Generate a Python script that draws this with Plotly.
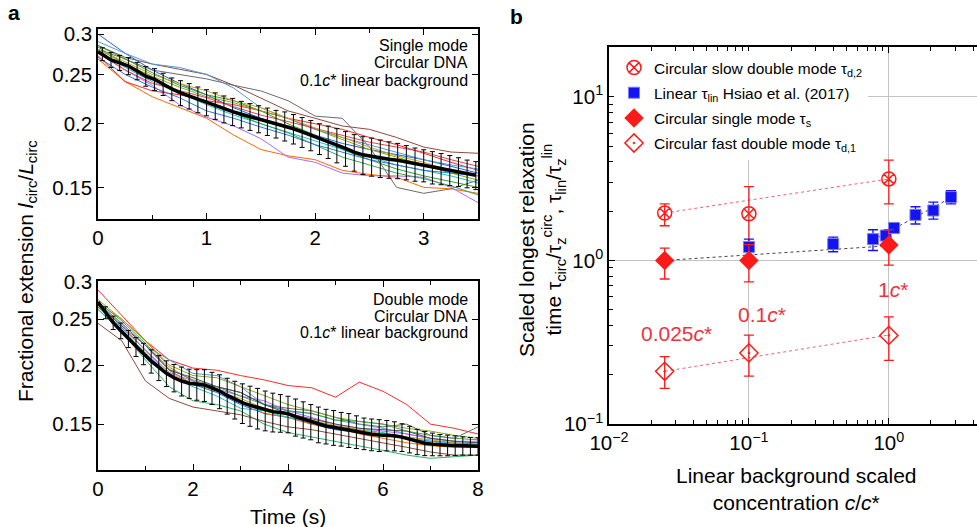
import math
import plotly.graph_objects as go

# ---------------- Panel a (top): single mode ----------------
top_t = [0, 0.25, 0.5, 0.75, 1.0, 1.25, 1.5, 1.75, 2.0, 2.25, 2.5, 2.75, 3.0, 3.25, 3.5]
top_gray = [0.280, 0.268, 0.255, 0.250, 0.245, 0.238, 0.232, 0.222, 0.207, 0.205, 0.180, 0.150, 0.146, 0.149, 0.155]
top_brown = [0.285, 0.270, 0.262, 0.256, 0.250, 0.238, 0.225, 0.212, 0.205, 0.198, 0.195, 0.188, 0.180, 0.176, 0.175]
top_orange = [0.268, 0.242, 0.226, 0.215, 0.205, 0.190, 0.178, 0.173, 0.170, 0.162, 0.159, 0.157, 0.150, 0.149, 0.146]
top_purple = [0.275, 0.255, 0.238, 0.218, 0.206, 0.198, 0.187, 0.172, 0.168, 0.160, 0.158, 0.158, 0.157, 0.150, 0.140]
top_blue = [0.300, 0.275, 0.255, 0.240, 0.228, 0.215, 0.205, 0.198, 0.190, 0.183, 0.178, 0.174, 0.170, 0.165, 0.160]
top_red = [0.272, 0.242, 0.232, 0.228, 0.222, 0.218, 0.212, 0.205, 0.200, 0.195, 0.188, 0.182, 0.175, 0.168, 0.162]
top_green = [0.285, 0.268, 0.252, 0.238, 0.228, 0.222, 0.212, 0.200, 0.190, 0.178, 0.170, 0.163, 0.158, 0.154, 0.150]
top_olive = [0.280, 0.262, 0.248, 0.236, 0.226, 0.220, 0.212, 0.205, 0.195, 0.186, 0.178, 0.172, 0.166, 0.160, 0.155]
top_cyan = [0.278, 0.258, 0.242, 0.230, 0.218, 0.208, 0.200, 0.193, 0.185, 0.178, 0.172, 0.166, 0.162, 0.158, 0.153]
top_lightblue = [0.290, 0.275, 0.262, 0.258, 0.250, 0.235, 0.215, 0.205, 0.195, 0.188, 0.182, 0.176, 0.170, 0.166, 0.163]
top_darkgreen = [0.283, 0.262, 0.245, 0.232, 0.220, 0.210, 0.200, 0.192, 0.182, 0.172, 0.166, 0.160, 0.156, 0.151, 0.145]
top_blue2 = [0.270, 0.250, 0.236, 0.225, 0.212, 0.205, 0.197, 0.190, 0.182, 0.176, 0.170, 0.166, 0.162, 0.160, 0.158]
top_red2 = [0.276, 0.255, 0.240, 0.232, 0.225, 0.216, 0.208, 0.202, 0.196, 0.190, 0.184, 0.180, 0.176, 0.170, 0.165]
top_gold = [0.280, 0.265, 0.250, 0.240, 0.232, 0.222, 0.215, 0.205, 0.196, 0.188, 0.180, 0.173, 0.168, 0.162, 0.158]

top_mean_start = 0.277
top_mean = [0.274, 0.267, 0.2635, 0.2597, 0.254, 0.248, 0.2446, 0.2393, 0.234, 0.230, 0.2268,
            0.2232, 0.2203, 0.217, 0.2138, 0.2113, 0.2088, 0.2066, 0.2045, 0.2022, 0.200, 0.198,
            0.1955, 0.1927, 0.190, 0.187, 0.1844, 0.1816, 0.179, 0.1759, 0.1738, 0.1726, 0.1713,
            0.1703, 0.1695, 0.1682, 0.1667, 0.1658, 0.1643, 0.1633, 0.1622, 0.161, 0.1597, 0.1585]
top_err = [0.008, 0.009, 0.009, 0.010, 0.010, 0.011, 0.012, 0.012, 0.012, 0.013, 0.013,
           0.013, 0.013, 0.013, 0.013, 0.013, 0.0125, 0.0125, 0.0125, 0.0125, 0.0125, 0.013,
           0.013, 0.013, 0.013, 0.013, 0.0135, 0.014, 0.014, 0.0145, 0.0148, 0.0148, 0.0145,
           0.014, 0.0135, 0.013, 0.0125, 0.012, 0.012, 0.0115, 0.011, 0.0105, 0.010, 0.010]
top_bar_t = [round(0.04 + 0.08 * k, 2) for k in range(len(top_mean))]

# ---------------- Panel a (bottom): double mode ----------------
bot_t = [0, 0.5, 1, 1.5, 2, 2.5, 3, 3.5, 4, 4.5, 5, 5.5, 6, 6.5, 7, 7.5, 8]
bot_red = [0.288, 0.255, 0.225, 0.205, 0.197, 0.195, 0.190, 0.186, 0.181, 0.179, 0.171, 0.184, 0.176, 0.165, 0.150, 0.147, 0.143]
bot_green = [0.262, 0.235, 0.205, 0.180, 0.168, 0.165, 0.160, 0.150, 0.144, 0.141, 0.138, 0.135, 0.132, 0.129, 0.127, 0.128, 0.129]
bot_brown = [0.245, 0.225, 0.185, 0.170, 0.163, 0.160, 0.157, 0.152, 0.148, 0.146, 0.143, 0.140, 0.137, 0.134, 0.131, 0.129, 0.129]
bot_gray = [0.270, 0.245, 0.220, 0.195, 0.182, 0.180, 0.175, 0.165, 0.162, 0.160, 0.155, 0.150, 0.148, 0.150, 0.142, 0.140, 0.148]
bot_blue = [0.265, 0.240, 0.215, 0.190, 0.182, 0.175, 0.165, 0.158, 0.155, 0.150, 0.146, 0.144, 0.142, 0.140, 0.138, 0.137, 0.136]
bot_lightblue = [0.270, 0.245, 0.220, 0.205, 0.192, 0.190, 0.180, 0.165, 0.160, 0.158, 0.153, 0.150, 0.147, 0.143, 0.140, 0.138, 0.137]
bot_orange = [0.270, 0.250, 0.225, 0.198, 0.185, 0.178, 0.168, 0.158, 0.155, 0.150, 0.148, 0.143, 0.140, 0.137, 0.135, 0.134, 0.134]
bot_olive = [0.275, 0.250, 0.225, 0.200, 0.190, 0.188, 0.180, 0.172, 0.165, 0.160, 0.155, 0.152, 0.150, 0.147, 0.145, 0.142, 0.140]
bot_purple = [0.268, 0.242, 0.215, 0.193, 0.185, 0.178, 0.172, 0.168, 0.160, 0.155, 0.150, 0.147, 0.145, 0.143, 0.140, 0.138, 0.138]
bot_cyan = [0.262, 0.238, 0.212, 0.190, 0.180, 0.172, 0.162, 0.160, 0.155, 0.152, 0.148, 0.146, 0.144, 0.140, 0.138, 0.136, 0.136]
bot_green2 = [0.272, 0.248, 0.222, 0.196, 0.186, 0.180, 0.172, 0.165, 0.160, 0.158, 0.153, 0.152, 0.150, 0.145, 0.142, 0.140, 0.139]
bot_darkgray = [0.268, 0.242, 0.220, 0.195, 0.188, 0.180, 0.175, 0.165, 0.158, 0.154, 0.150, 0.147, 0.146, 0.145, 0.140, 0.138, 0.137]
bot_gold = [0.266, 0.244, 0.214, 0.192, 0.183, 0.176, 0.170, 0.162, 0.157, 0.153, 0.149, 0.146, 0.143, 0.141, 0.139, 0.137, 0.135]

bot_mean_start = 0.2716
bot_mean = [0.258, 0.2457, 0.2363, 0.2272, 0.2185, 0.2113, 0.2038, 0.1974, 0.1921, 0.188,
            0.185, 0.183, 0.182, 0.1815, 0.179, 0.1762, 0.1725, 0.1693, 0.1665, 0.1644,
            0.1625, 0.1607, 0.1594, 0.1587, 0.1578, 0.1555, 0.1537, 0.152, 0.150, 0.1487,
            0.1478, 0.1468, 0.1459, 0.1447, 0.1435, 0.1428, 0.1423, 0.1422, 0.1417, 0.1408,
            0.1394, 0.1378, 0.1367, 0.1361, 0.1356, 0.1354, 0.1352, 0.135, 0.1348, 0.1347]
bot_err = [0.0075, 0.008, 0.009, 0.0095, 0.010, 0.011, 0.0115, 0.012, 0.012, 0.0125,
           0.013, 0.013, 0.0135, 0.014, 0.014, 0.0145, 0.015, 0.0155, 0.016, 0.016,
           0.016, 0.0155, 0.015, 0.0145, 0.014, 0.014, 0.0135, 0.013, 0.013, 0.0125,
           0.0125, 0.012, 0.012, 0.0115, 0.011, 0.011, 0.011, 0.0105, 0.010, 0.0095,
           0.009, 0.0085, 0.008, 0.0075, 0.007, 0.0068, 0.0065, 0.006, 0.0058, 0.0057]
bot_bar_t = [round(0.16 * (k + 1), 2) for k in range(len(bot_mean))]

# ---------------- Panel b ----------------
conc_circ = [0.025, 0.1, 1.0]
slow_y = [1.95, 1.93, 3.15]
slow_ep = [0.27, 0.90, 0.95]
slow_em = [0.32, 0.70, 0.93]

lin_x = [0.1, 0.4, 0.77, 0.95, 1.09, 1.55, 2.08, 2.78]
lin_y = [1.21, 1.26, 1.35, 1.42, 1.58, 1.90, 2.02, 2.44]
lin_ep = [0.14, 0.13, 0.19, 0.10, 0.08, 0.23, 0.25, 0.23]
lin_em = [0.15, 0.13, 0.20, 0.10, 0.08, 0.23, 0.23, 0.22]

single_y = [1.0, 1.0, 1.245]
single_ep = [0.19, 0.25, 0.30]
single_em = [0.23, 0.26, 0.31]

fast_y = [0.21, 0.272, 0.348]
fast_ep = [0.048, 0.077, 0.104]
fast_em = [0.045, 0.076, 0.103]

fit_slow_x, fit_slow_y = [0.025, 1.0], [1.95, 3.15]
fit_fast_x, fit_fast_y = [0.025, 1.0], [0.21, 0.35]
fit_dilute_x, fit_dilute_y = [0.025, 1.0], [1.0, 1.23]
fit_semi_x, fit_semi_y = [0.77, 2.78], [1.33, 2.42]

conc_labels = ["0.025<i>c</i>*", "0.1<i>c</i>*", "1<i>c</i>*"]

# ---------------- Figure ----------------
W, H = 977, 527
FONT = "Liberation Sans, Arial, sans-serif"
RED = "#ff1a1a"
LRED = "#f06070"
BLUE = "#1414f0"
TXTRED = "#ee3340"

fig = go.Figure()

top_lines = [
    (top_gray, "#6b6b6b"), (top_brown, "#8c4b3c"), (top_orange, "#ff6a00"), (top_purple, "#b266ff"),
    (top_blue, "#1f66e5"), (top_red, "#ff2a2a"), (top_green, "#2ca02c"), (top_olive, "#8ba61e"),
    (top_cyan, "#17c3c3"), (top_lightblue, "#5599dd"), (top_darkgreen, "#3aa655"), (top_blue2, "#2a7be0"),
    (top_red2, "#e8434b"), (top_gold, "#c9a227"),
]
for vals, col in top_lines:
    fig.add_trace(go.Scatter(x=top_t, y=vals, mode="lines", line=dict(color=col, width=1),
                             showlegend=False, xaxis="x", yaxis="y", hoverinfo="skip"))
fig.add_trace(go.Scatter(x=top_bar_t, y=top_mean, mode="markers", marker=dict(size=0.1, color="black"),
                         error_y=dict(type="data", array=top_err, color="black", thickness=1, width=2.5),
                         showlegend=False, xaxis="x", yaxis="y"))
fig.add_trace(go.Scatter(x=[0] + top_bar_t, y=[top_mean_start] + top_mean, mode="lines",
                         line=dict(color="black", width=3.5), showlegend=False, xaxis="x", yaxis="y"))

bot_lines = [
    (bot_red, "#ff2a2a"), (bot_green, "#2cb36a"), (bot_brown, "#8c4b3c"), (bot_gray, "#6b6b6b"),
    (bot_blue, "#1f66e5"), (bot_lightblue, "#5599dd"), (bot_orange, "#ff6a00"), (bot_olive, "#8ba61e"),
    (bot_purple, "#b266ff"), (bot_cyan, "#17c3c3"), (bot_green2, "#3aa655"), (bot_darkgray, "#555555"),
    (bot_gold, "#c9a227"),
]
for vals, col in bot_lines:
    fig.add_trace(go.Scatter(x=bot_t, y=vals, mode="lines", line=dict(color=col, width=1),
                             showlegend=False, xaxis="x2", yaxis="y2", hoverinfo="skip"))
fig.add_trace(go.Scatter(x=bot_bar_t, y=bot_mean, mode="markers", marker=dict(size=0.1, color="black"),
                         error_y=dict(type="data", array=bot_err, color="black", thickness=1, width=2.5),
                         showlegend=False, xaxis="x2", yaxis="y2"))
fig.add_trace(go.Scatter(x=[0] + bot_bar_t, y=[bot_mean_start] + bot_mean, mode="lines",
                         line=dict(color="black", width=3.5), showlegend=False, xaxis="x2", yaxis="y2"))

# Panel b fit lines
for fx, fy, col in [(fit_slow_x, fit_slow_y, LRED), (fit_fast_x, fit_fast_y, LRED),
                    (fit_dilute_x, fit_dilute_y, "#444444"), (fit_semi_x, fit_semi_y, "#444444")]:
    fig.add_trace(go.Scatter(x=fx, y=fy, mode="lines", line=dict(color=col, width=1, dash="dot"),
                             showlegend=False, xaxis="x3", yaxis="y3", hoverinfo="skip"))

fig.add_trace(go.Scatter(
    x=conc_circ, y=slow_y, mode="markers", name="Circular slow double mode τ<sub>d,2</sub>",
    legendgroup="g1",
    marker=dict(symbol="circle-x-open", size=14, color=RED, line=dict(width=1.5, color=RED)),
    error_y=dict(type="data", array=slow_ep, arrayminus=slow_em, color=RED, thickness=1.3, width=5),
    xaxis="x3", yaxis="y3"))
fig.add_trace(go.Scatter(
    x=lin_x, y=lin_y, mode="markers", name="Linear τ<sub>lin</sub> Hsiao et al. (2017)",
    legendgroup="g2",
    marker=dict(symbol="square", size=11, color=BLUE, line=dict(width=1, color="#7a7aff")),
    error_y=dict(type="data", array=lin_ep, arrayminus=lin_em, color=BLUE, thickness=1.3, width=5),
    xaxis="x3", yaxis="y3"))
fig.add_trace(go.Scatter(
    x=conc_circ, y=single_y, mode="markers", name="Circular single mode τ<sub>s</sub>",
    legendgroup="g3",
    marker=dict(symbol="diamond", size=15, color=RED, line=dict(width=0)),
    error_y=dict(type="data", array=single_ep, arrayminus=single_em, color=RED, thickness=1.3, width=5),
    xaxis="x3", yaxis="y3"))
fig.add_trace(go.Scatter(
    x=conc_circ, y=fast_y, mode="markers", name="Circular fast double mode τ<sub>d,1</sub>",
    legendgroup="g4",
    marker=dict(symbol="diamond-open-dot", size=14, color=RED, line=dict(width=1.5, color=RED)),
    error_y=dict(type="data", array=fast_ep, arrayminus=fast_em, color=RED, thickness=1.3, width=5),
    xaxis="x3", yaxis="y3"))

def px(x):
    return x / W

def py(y):
    return 1 - y / H

common = dict(showline=True, linecolor="black", linewidth=1.5, mirror="ticks", ticks="inside",
              ticklen=6, tickwidth=1.2, tickcolor="black", zeroline=False, automargin=False,
              tickfont=dict(family=FONT, size=20.5, color="black"))
common_nomirror = dict(common)
common_nomirror["mirror"] = False

minor_x3 = [k * 10 ** e for e in (-2, -1, 0) for k in range(2, 10)]
minor_y3 = [k * 10 ** e for e in (-1, 0, 1) for k in range(2, 10)]

fig.update_layout(
    template="none",
    width=W, height=H, margin=dict(l=0, r=0, t=0, b=0, pad=0, autoexpand=False),
    paper_bgcolor="white", plot_bgcolor="white",
    font=dict(family=FONT, color="black"),
    xaxis=dict(domain=[px(98), px(478)], anchor="y", range=[0, 3.5], tickvals=[0, 1, 2, 3],
               showgrid=False, minor=dict(dtick=0.5, ticks="inside", ticklen=4, tickcolor="black"), **common),
    yaxis=dict(domain=[py(219), py(29)], anchor="x", type="log",
               range=[math.log10(0.13), math.log10(0.307)],
               tickvals=[0.15, 0.2, 0.25, 0.3], ticktext=["0.15", "0.2", "0.25", "0.3"],
               showgrid=False, **common),
    xaxis2=dict(domain=[px(98), px(478)], anchor="y2", range=[0, 8], tickvals=[0, 2, 4, 6, 8],
                showgrid=False, minor=dict(dtick=1, ticks="inside", ticklen=4, tickcolor="black"), **common),
    yaxis2=dict(domain=[py(470), py(281)], anchor="x2", type="log",
                range=[math.log10(0.12), math.log10(0.301)],
                tickvals=[0.15, 0.2, 0.25, 0.3], ticktext=["0.15", "0.2", "0.25", "0.3"],
                showgrid=False, **common),
    xaxis3=dict(domain=[px(609), 1.0], anchor="y3", type="log", range=[-2, 0.63],
                tickvals=[0.01, 0.1, 1], ticktext=["10<sup>−2</sup>", "10<sup>−1</sup>", "10<sup>0</sup>"],
                showgrid=True, gridcolor="#c4c4c4", gridwidth=1,
                minor=dict(tickvals=minor_x3, ticks="inside", ticklen=4, tickcolor="black", showgrid=False),
                **common),
    yaxis3=dict(domain=[py(424), py(47)], anchor="x3", type="log", range=[-1, 1.305],
                tickvals=[0.1, 1, 10], ticktext=["10<sup>−1</sup>", "10<sup>0</sup>", "10<sup>1</sup>"],
                showgrid=True, gridcolor="#c4c4c4", gridwidth=1,
                minor=dict(tickvals=minor_y3, ticks="inside", ticklen=4, tickcolor="black", showgrid=False),
                **common_nomirror),
    legend=dict(x=px(614), y=py(51), xanchor="left", yanchor="top", bgcolor="white",
                font=dict(family=FONT, size=15.5, color="black"), tracegroupgap=2,
                itemwidth=30, borderwidth=0),
)

ann = []
ann.append(dict(text="<b>a</b>", x=px(14), y=py(13), xref="paper", yref="paper", showarrow=False,
                xanchor="center", yanchor="middle", font=dict(family=FONT, size=21)))
ann.append(dict(text="<b>b</b>", x=px(516), y=py(16), xref="paper", yref="paper", showarrow=False,
                xanchor="center", yanchor="middle", font=dict(family=FONT, size=21)))
for lines, ys in [(["Single mode", "Circular DNA", "0.1<i>c</i>* linear background"], [45, 63, 80]),
                  (["Double mode", "Circular DNA", "0.1<i>c</i>* linear background"], [299, 316, 332])]:
    for t, yy in zip(lines, ys):
        ann.append(dict(text=t, x=px(470), y=py(yy), xref="paper", yref="paper", xanchor="right",
                        yanchor="middle", showarrow=False, font=dict(family=FONT, size=16)))
ann.append(dict(text="Fractional extension <i>l</i><sub>circ</sub>/<i>L</i><sub>circ</sub>",
                x=px(27), y=py(271), xref="paper", yref="paper", textangle=-90, showarrow=False,
                xanchor="center", yanchor="middle", font=dict(family=FONT, size=21)))
ann.append(dict(text="Time (s)", x=px(288), y=py(516), xref="paper", yref="paper", showarrow=False,
                xanchor="center", yanchor="middle", font=dict(family=FONT, size=21)))
ann.append(dict(text="Scaled longest relaxation<br>time τ<sub>circ</sub>/τ<sub>z</sub><sup>circ</sup>, τ<sub>lin</sub>/τ<sub>z</sub><sup>lin</sup>",
                x=px(542), y=py(240), xref="paper", yref="paper", textangle=-90, showarrow=False,
                xanchor="center", yanchor="middle", font=dict(family=FONT, size=21)))
ann.append(dict(text="Linear background scaled<br>concentration <i>c</i>/<i>c</i>*",
                x=px(796), y=py(489), xref="paper", yref="paper", showarrow=False,
                xanchor="center", yanchor="middle", font=dict(family=FONT, size=21)))
for t, (xx, yy) in zip(conc_labels, [(676, 333), (762, 314), (893, 289)]):
    ann.append(dict(text=t, x=px(xx), y=py(yy), xref="paper", yref="paper", showarrow=False,
                    xanchor="center", yanchor="middle", font=dict(family=FONT, size=21, color=TXTRED)))
fig.update_layout(annotations=ann)

fig.write_html("out.html", config={"displayModeBar": False},
               post_script="document.body.style.margin='0';document.body.style.overflow='hidden';")
